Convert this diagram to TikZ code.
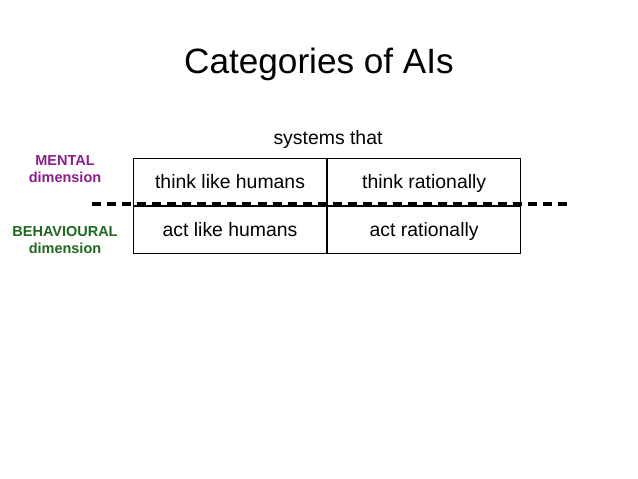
\documentclass[tikz,border=0pt]{standalone}
\usepackage{fontspec}
\setmainfont{Liberation Sans}
\usetikzlibrary{positioning}
\definecolor{mentalpurple}{RGB}{140,30,140}
\definecolor{behavgreen}{RGB}{30,105,30}

\begin{document}
\begin{tikzpicture}[x=0.025cm, y=-0.025cm,
    cell/.style={draw=black, line width=0.6pt, minimum width=4.83cm, minimum height=1.175cm, inner sep=0pt, text height=0.95em, text depth=0.02em, font=\fontsize{13.8}{16}\selectfont},
    dim/.style={font=\fontsize{10.3}{12}\selectfont\bfseries, align=center},
    divider/.style={line width=2.2pt, dash pattern=on 6.4pt off 4.3pt}]

\useasboundingbox[fill=white] (0,0) rectangle (638,479);

\node (title) at (319,64) {\fontsize{25}{30}\selectfont Categories of AIs};
\node (systems) at (328,139) {\fontsize{13.8}{16}\selectfont systems that};

\node[cell, anchor=north west] (thinkhum) at (133,158) {think like humans};
\node[cell, right=0pt of thinkhum] (thinkrat) {think rationally};
\node[cell, below=0pt of thinkhum] (acthum) {act like humans};
\node[cell, below=0pt of thinkrat] (actrat) {act rationally};

\node[dim, text=mentalpurple] (mental) at (65,169) {MENTAL\\dimension};
\node[dim, text=behavgreen] (behav) at (65,240) {BEHAVIOURAL\\dimension};

\coordinate (divL) at (92,204);
\coordinate (divR) at (571,204);
\draw[divider] (divL) -- (divR);
\end{tikzpicture}
\end{document}
